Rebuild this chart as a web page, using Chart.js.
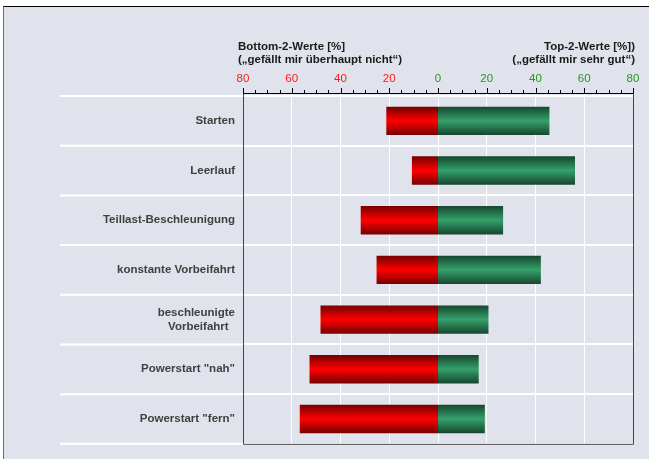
<!DOCTYPE html>
<html>
<head>
<meta charset="utf-8">
<script src="https://cdn.jsdelivr.net/npm/chart.js@4/dist/chart.umd.min.js"></script>
<style>
  html, body { margin: 0; padding: 0; background: #ffffff; }
  #frame { position: absolute; left: 3px; top: 6px; width: 700px; height: 500px;
           background: #e0e3eb; border-top: 1px solid #000; border-left: 1px solid #6e6e6e; }
  #wrap { position: absolute; left: 0; top: 0; width: 649px; height: 459px; }
</style>
</head>
<body>
<div id="frame"></div>
<div id="wrap"><canvas id="c" width="649" height="459"></canvas></div>
<script>
const categories = ['Starten', 'Leerlauf', 'Teillast-Beschleunigung', 'konstante Vorbeifahrt',
  ['beschleunigte', 'Vorbeifahrt  '], 'Powerstart "nah"', 'Powerstart "fern"'];
const bottom2 = [-21, -10.5, -31.5, -25, -48, -52.5, -56.5];
const top2 = [45.5, 56, 26.5, 42, 20.5, 16.5, 19];
const xMin = -80, xMax = 80, xStep = 20, minorStep = 5;
const titleLeft = ['Bottom-2-Werte [%]', '(\u201egef\u00e4llt mir \u00fcberhaupt nicht\u201c)'];
const titleRight = ['Top-2-Werte [%])', '(\u201egef\u00e4llt mir sehr gut\u201c)'];

const FONT = '"Liberation Sans", Arial, sans-serif';
const barPct = 0.55;
const GAP = 3; // axis line sits a little above the first category band

function barGradient(ctx, dark, light) {
  const chart = ctx.chart;
  const y = chart.scales.y;
  if (!chart.chartArea || !y || ctx.dataIndex === undefined) return light;
  const c = y.getPixelForValue(ctx.dataIndex);
  const h = (y.height / categories.length) * barPct / 2;
  const g = chart.ctx.createLinearGradient(0, c - h, 0, c + h);
  g.addColorStop(0, dark);
  g.addColorStop(0.5, light);
  g.addColorStop(1, dark);
  return g;
}

const decor = {
  id: 'decor',
  beforeDatasetsDraw(chart) {
    const { ctx, chartArea: a, scales } = chart;
    ctx.save();
    ctx.strokeStyle = '#ffffff';
    ctx.lineWidth = 2;
    for (let i = 0; i <= categories.length; i++) {
      const yy = scales.y.getPixelForValue(i - 0.5);
      ctx.beginPath();
      ctx.moveTo(60, yy);
      ctx.lineTo(a.left, yy);
      ctx.stroke();
    }
    ctx.lineWidth = 1;
    for (let v = xMin; v <= xMax; v += xStep) {
      const px = scales.x.getPixelForValue(v);
      ctx.beginPath();
      ctx.moveTo(px, a.top - GAP);
      ctx.lineTo(px, a.top);
      ctx.stroke();
    }
    ctx.restore();
  },
  afterDraw(chart) {
    const { ctx, chartArea: a, scales } = chart;
    const top = a.top - GAP;
    ctx.save();
    ctx.strokeStyle = '#444444';
    ctx.lineWidth = 1;
    ctx.beginPath();
    ctx.moveTo(a.left + 0.5, top);
    ctx.lineTo(a.left + 0.5, a.bottom + 0.5);
    ctx.lineTo(a.right + 0.5, a.bottom + 0.5);
    ctx.lineTo(a.right + 0.5, top);
    ctx.stroke();
    ctx.strokeStyle = '#000000';
    ctx.beginPath();
    ctx.moveTo(a.left, top + 0.5);
    ctx.lineTo(a.right + 1, top + 0.5);
    ctx.stroke();
    for (let v = xMin; v <= xMax; v += minorStep) {
      const px = Math.round(scales.x.getPixelForValue(v)) + 0.5;
      const len = (v % xStep === 0) ? 5 : 3;
      ctx.beginPath();
      ctx.moveTo(px, top);
      ctx.lineTo(px, top - len);
      ctx.stroke();
    }
    ctx.fillStyle = '#1a1a1a';
    ctx.font = 'bold 11.5px ' + FONT;
    ctx.textBaseline = 'middle';
    ctx.textAlign = 'left';
    ctx.fillText(titleLeft[0], 238, 47);
    ctx.fillText(titleLeft[1], 238, 60);
    ctx.textAlign = 'right';
    ctx.fillText(titleRight[0], 635, 47);
    ctx.fillText(titleRight[1], 635, 60);
    ctx.restore();
  }
};

new Chart(document.getElementById('c'), {
  type: 'bar',
  data: {
    labels: categories,
    datasets: [
      { label: 'Bottom-2', data: bottom2, borderWidth: 0, inflateAmount: 0.5,
        backgroundColor: (ctx) => barGradient(ctx, '#7a0000', '#ff0000') },
      { label: 'Top-2', data: top2, borderWidth: 0, inflateAmount: 0.5,
        backgroundColor: (ctx) => barGradient(ctx, '#174a30', '#35a06c') }
    ]
  },
  options: {
    indexAxis: 'y',
    responsive: false,
    animation: false,
    devicePixelRatio: 1,
    layout: { padding: { left: 0, right: 16, top: 0, bottom: 7 } },
    datasets: { bar: { barPercentage: barPct, categoryPercentage: 1 } },
    plugins: { legend: { display: false }, tooltip: { enabled: false }, title: { display: false } },
    scales: {
      x: {
        position: 'top',
        stacked: true,
        min: xMin, max: xMax,
        afterFit(s) { s.height = 96; },
        ticks: {
          stepSize: xStep,
          padding: 4,
          font: { family: FONT, size: 11.5 },
          color: (c) => c.tick.value < 0 ? '#ff1a1a' : '#1f9a1f',
          callback: (v) => String(Math.abs(v))
        },
        grid: { color: '#ffffff', lineWidth: 1, drawTicks: true, tickLength: 6, tickColor: 'rgba(0,0,0,0)' },
        border: { display: false }
      },
      y: {
        stacked: true,
        afterFit(s) { s.width = 243; },
        ticks: {
          padding: 8,
          font: { family: FONT, size: 11.5, weight: 'bold', lineHeight: 1.25 },
          color: '#404040'
        },
        grid: { color: '#ffffff', lineWidth: 2, offset: true, drawTicks: false },
        border: { display: false }
      }
    }
  },
  plugins: [decor]
});
</script>
</body>
</html>
